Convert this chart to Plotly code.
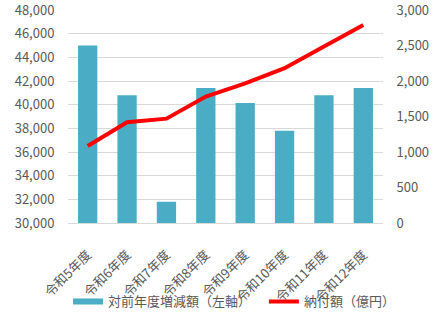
import plotly.graph_objects as go

categories = ["令和5年度", "令和6年度", "令和7年度", "令和8年度", "令和9年度", "令和10年度", "令和11年度", "令和12年度"]
bar_values = [45000, 40800, 31800, 41400, 40150, 37800, 40800, 41400]
line_values = [1085, 1420, 1470, 1780, 1965, 2180, 2485, 2790]
bar_name = "対前年度増減額（左軸）"
line_name = "納付額（億円）"
left_ticks = list(range(30000, 48001, 2000))
right_ticks = list(range(0, 3001, 500))

font_family = "Noto Sans CJK JP, Noto Sans, sans-serif"
grey = "#595959"
teal = "#4BACC6"
clear = "rgba(0,0,0,0)"

fig = go.Figure()
fig.add_trace(go.Bar(x=categories, y=bar_values, name=bar_name, showlegend=False,
                     marker=dict(color=teal, line=dict(width=0)), yaxis="y"))
# legend proxy for the bar series (wide flat swatch like the reference)
fig.add_trace(go.Scatter(x=[None], y=[None], name=bar_name, mode="lines",
                         line=dict(color=teal, width=6), yaxis="y", legend="legend"))
fig.add_trace(go.Scatter(x=categories, y=line_values, name=line_name, mode="lines",
                         line=dict(color="#FF0000", width=4), yaxis="y2", legend="legend2"))

legend_common = dict(orientation="h", yanchor="middle", yref="container", xref="container",
                     xanchor="left", bgcolor=clear, font=dict(size=13, color=grey),
                     itemwidth=30, tracegroupgap=0)

fig.update_layout(
    width=445, height=314,
    margin=dict(l=68, r=62, t=10, b=91),
    paper_bgcolor="white", plot_bgcolor="white",
    font=dict(family=font_family, size=13, color=grey),
    bargap=0.51,
    showlegend=True,
    legend=dict(x=0.153, y=0.04, **legend_common),
    legend2=dict(x=0.593, y=0.04, **legend_common),
    xaxis=dict(tickangle=-45, showgrid=False, showline=True, linecolor="#D9D9D9",
               ticks="outside", ticklen=18, tickcolor=clear, automargin=False,
               tickfont=dict(size=13, color=grey)),
    yaxis=dict(range=[30000, 48000], tickvals=left_ticks, tickformat=",",
               showgrid=True, gridcolor="#D9D9D9", zeroline=False,
               ticks="outside", ticklen=10, tickcolor=clear,
               automargin=False, ticklabeloverflow="allow",
               tickfont=dict(size=13, color=grey)),
    yaxis2=dict(range=[0, 3000], tickvals=right_ticks, tickformat=",", overlaying="y",
                side="right", showgrid=False, zeroline=False,
                ticks="outside", ticklen=10, tickcolor=clear,
                automargin=False, ticklabeloverflow="allow",
                tickfont=dict(size=13, color=grey)),
)

fig.write_html("out.html")
